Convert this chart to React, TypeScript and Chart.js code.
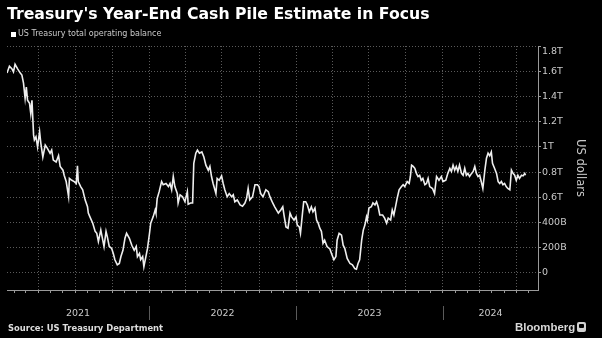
import React, { useEffect, useRef } from "react";
import { Chart, registerables } from "chart.js";

Chart.register(...registerables);

const TITLE = "Treasury's Year-End Cash Pile Estimate in Focus";
const LEGEND_LABEL = "US Treasury total operating balance";
const SOURCE = "Source: US Treasury Department";
const BRAND = "Bloomberg";
const Y_AXIS_TITLE = "US dollars";

const dates = [
  "2021-01-13","2021-01-19","2021-01-25","2021-01-29","2021-02-02","2021-02-08","2021-02-15","2021-02-19",
  "2021-02-23","2021-02-27","2021-03-02","2021-03-05","2021-03-10","2021-03-13","2021-03-16","2021-03-20",
  "2021-03-22","2021-03-26","2021-03-30","2021-04-04","2021-04-07","2021-04-12","2021-04-18","2021-04-23",
  "2021-04-30","2021-05-04","2021-05-08","2021-05-15","2021-05-21","2021-05-25","2021-06-01","2021-06-04",
  "2021-06-09","2021-06-15","2021-06-17","2021-06-23","2021-06-29","2021-07-04","2021-07-07","2021-07-09",
  "2021-07-15","2021-07-20","2021-07-26","2021-08-01","2021-08-03","2021-08-07","2021-08-14","2021-08-20",
  "2021-08-24","2021-08-28","2021-09-03","2021-09-07","2021-09-11","2021-09-16","2021-09-19","2021-09-24",
  "2021-09-30","2021-10-04","2021-10-08","2021-10-14","2021-10-19","2021-10-23","2021-10-28","2021-11-02",
  "2021-11-06","2021-11-13","2021-11-19","2021-11-25","2021-11-30","2021-12-03","2021-12-08","2021-12-11",
  "2021-12-16","2021-12-19","2021-12-24","2021-12-28","2022-01-02","2022-01-05","2022-01-11","2022-01-16",
  "2022-01-18","2022-01-21","2022-01-26","2022-02-01","2022-02-05","2022-02-12","2022-02-18","2022-02-22",
  "2022-02-26","2022-03-02","2022-03-06","2022-03-12","2022-03-14","2022-03-19","2022-03-25","2022-03-31",
  "2022-04-06","2022-04-08","2022-04-14","2022-04-19","2022-04-22","2022-04-27","2022-05-01","2022-05-06",
  "2022-05-12","2022-05-17","2022-05-22","2022-05-28","2022-06-01","2022-06-05","2022-06-09","2022-06-16",
  "2022-06-19","2022-06-24","2022-06-30","2022-07-04","2022-07-08","2022-07-14","2022-07-19","2022-07-25",
  "2022-07-29","2022-08-02","2022-08-08","2022-08-15","2022-08-21","2022-08-27","2022-08-31","2022-09-04",
  "2022-09-08","2022-09-15","2022-09-21","2022-09-27","2022-10-01","2022-10-05","2022-10-11","2022-10-18",
  "2022-10-24","2022-10-28","2022-11-04","2022-11-09","2022-11-18","2022-11-24","2022-11-29","2022-12-02",
  "2022-12-07","2022-12-12","2022-12-17","2022-12-21","2022-12-27","2023-01-01","2023-01-04","2023-01-09",
  "2023-01-12","2023-01-17","2023-01-20","2023-01-25","2023-01-29","2023-02-03","2023-02-08","2023-02-12",
  "2023-02-17","2023-02-21","2023-02-25","2023-03-01","2023-03-05","2023-03-09","2023-03-13","2023-03-19",
  "2023-03-26","2023-03-30","2023-04-05","2023-04-10","2023-04-13","2023-04-18","2023-04-24","2023-04-28",
  "2023-05-02","2023-05-08","2023-05-15","2023-05-21","2023-05-27","2023-05-31","2023-06-04","2023-06-08",
  "2023-06-13","2023-06-17","2023-06-21","2023-06-25","2023-06-27","2023-07-01","2023-07-07","2023-07-11",
  "2023-07-16","2023-07-20","2023-07-24","2023-07-28","2023-08-04","2023-08-09","2023-08-14","2023-08-18",
  "2023-08-24","2023-08-28","2023-09-01","2023-09-06","2023-09-09","2023-09-14","2023-09-20","2023-09-24",
  "2023-09-28","2023-10-04","2023-10-09","2023-10-12","2023-10-15","2023-10-19","2023-10-23","2023-10-27",
  "2023-10-31","2023-11-04","2023-11-08","2023-11-12","2023-11-17","2023-11-21","2023-11-25","2023-11-29",
  "2023-12-06","2023-12-11","2023-12-16","2023-12-22","2023-12-28","2024-01-01","2024-01-08","2024-01-13",
  "2024-01-18","2024-01-22","2024-01-26","2024-01-30","2024-02-03","2024-02-07","2024-02-11","2024-02-16",
  "2024-02-20","2024-02-24","2024-02-28","2024-03-03","2024-03-07","2024-03-12","2024-03-16","2024-03-20",
  "2024-03-24","2024-03-28","2024-04-01","2024-04-05","2024-04-09","2024-04-14","2024-04-18","2024-04-22",
  "2024-04-26","2024-04-30","2024-05-03","2024-05-08","2024-05-13","2024-05-17","2024-05-21","2024-05-25",
  "2024-05-29","2024-06-02","2024-06-06","2024-06-10","2024-06-15","2024-06-19","2024-06-23","2024-06-27",
  "2024-07-01","2024-07-05","2024-07-09","2024-07-14","2024-07-18","2024-07-22","2024-07-24",
];

// US Treasury total operating balance, billions of dollars
const balanceBillions = [
  1585,1640,1620,1595,1655,1620,1585,1570,
  1505,1385,1475,1370,1345,1265,1370,1095,
  1055,1080,1000,1120,1030,920,1015,990,
  950,975,895,880,930,845,815,775,
  725,605,750,735,725,710,850,725,
  685,660,580,525,475,445,395,330,
  315,250,340,275,210,330,290,210,
  195,155,105,65,75,130,180,275,
  315,275,220,180,210,130,155,105,
  130,50,130,195,315,395,445,500,
  475,590,645,725,700,710,685,710,
  660,765,685,630,555,620,605,565,
  645,545,555,555,870,950,975,950,
  960,920,855,815,845,765,710,630,
  750,735,770,710,660,605,630,605,
  620,565,580,540,530,555,590,670,
  580,605,700,700,685,630,605,660,
  645,605,555,525,475,500,525,460,
  365,355,475,445,420,445,380,365,
  315,475,565,565,540,485,525,485,
  515,420,395,355,330,235,260,210,
  190,155,105,130,260,315,300,220,
  195,115,75,65,35,30,75,105,
  260,340,380,445,420,515,525,555,
  540,565,525,460,460,435,395,435,
  420,500,460,540,590,660,685,700,
  685,725,710,765,855,845,830,790,
  765,775,735,750,700,710,750,685,
  670,630,765,735,765,725,735,790,
  830,805,855,815,845,805,855,790,
  775,830,775,790,765,790,805,845,
  790,765,775,725,670,815,910,950,
  930,960,870,830,790,725,710,725,
  700,710,685,670,660,815,790,775,
  735,775,750,775,770,790,775,
];

const yTickValues = [0, 200, 400, 600, 800, 1000, 1200, 1400, 1600, 1800];
const yTickLabels = ["0", "200B", "400B", "0.6T", "0.8T", "1T", "1.2T", "1.4T", "1.6T", "1.8T"];
const yearLabels = ["2021", "2022", "2023", "2024"];
const axisStartDate = "2021-01-13";
const axisEndDate = "2024-08-24";
const yAxisMin = -135;
const yAxisMax = 1800;

const EPOCH = Date.UTC(2021, 0, 1);
const toDay = (s: string) => {
  const [y, m, d] = s.split("-").map(Number);
  return (Date.UTC(y, m - 1, d) - EPOCH) / 86400000;
};

const GRID = "rgba(120,120,120,0.75)";
const AXIS = "#9a9a9a";
const TEXT = "#c9c9c9";
const FONT = "'DejaVu Sans', sans-serif";

export default function App() {
  const canvasRef = useRef<HTMLCanvasElement | null>(null);

  useEffect(() => {
    const canvas = canvasRef.current;
    if (!canvas) return;
    const xMin = toDay(axisStartDate);
    const xMax = toDay(axisEndDate);

    const monthTicks: { value: number; quarter: boolean }[] = [];
    for (let y = 2021; y <= 2024; y++) {
      for (let m = 1; m <= 12; m++) {
        const d = toDay(`${y}-${String(m).padStart(2, "0")}-01`);
        if (d > xMin && d < xMax) monthTicks.push({ value: d, quarter: (m - 1) % 3 === 0 });
      }
    }
    const quarterSet = new Set(monthTicks.filter((t) => t.quarter).map((t) => t.value));

    const points = dates.map((d, i) => ({ x: toDay(d), y: balanceBillions[i] }));

    const yearAxisPlugin = {
      id: "yearAxis",
      afterDraw(chart: any) {
        const xs = chart.scales.x;
        const ctx = chart.ctx;
        const base = chart.chartArea.bottom;
        ctx.save();
        ctx.fillStyle = TEXT;
        ctx.font = `9.5px ${FONT}`;
        ctx.textAlign = "center";
        ctx.textBaseline = "middle";
        yearLabels.forEach((label) => {
          const y = Number(label);
          const s = Math.max(toDay(`${y}-01-01`), xs.min);
          const e = Math.min(toDay(`${y + 1}-01-01`), xs.max);
          ctx.fillText(label, xs.getPixelForValue((s + e) / 2), base + 24);
        });
        ctx.strokeStyle = "#5a5a5a";
        ctx.lineWidth = 1;
        yearLabels.slice(1).forEach((label) => {
          const px = Math.round(xs.getPixelForValue(toDay(`${label}-01-01`))) + 0.5;
          ctx.beginPath();
          ctx.moveTo(px, base + 16);
          ctx.lineTo(px, base + 30);
          ctx.stroke();
        });
        ctx.restore();
      },
    };

    const chart = new Chart(canvas, {
      type: "line",
      data: {
        datasets: [
          {
            label: LEGEND_LABEL,
            data: points,
            borderColor: "#eeeeee",
            borderWidth: 1.6,
            pointRadius: 0,
            tension: 0,
            fill: false,
          },
        ],
      },
      options: {
        animation: false,
        responsive: false,
        devicePixelRatio: 1,
        layout: { padding: { left: 7, top: 46, right: 0, bottom: 0 } },
        plugins: {
          legend: { display: false },
          tooltip: { enabled: false },
          title: { display: false },
        },
        scales: {
          x: {
            type: "linear",
            min: xMin,
            max: xMax,
            afterBuildTicks: (s: any) => {
              s.ticks = monthTicks.map((t) => ({ value: t.value }));
            },
            afterFit: (s: any) => {
              s.height = 48;
            },
            ticks: { display: false, autoSkip: false },
            grid: {
              color: (c: any) => (c.tick && quarterSet.has(c.tick.value) ? GRID : "rgba(0,0,0,0)"),
              tickColor: AXIS,
              tickLength: 3,
              drawTicks: true,
            },
            border: { display: true, color: AXIS, width: 1, dash: [1, 2] },
          },
          y: {
            type: "linear",
            position: "right",
            min: yAxisMin,
            max: yAxisMax,
            afterBuildTicks: (s: any) => {
              s.ticks = yTickValues.map((v) => ({ value: v }));
            },
            afterFit: (s: any) => {
              s.width = 64;
            },
            ticks: {
              color: TEXT,
              font: { family: FONT, size: 9.5 },
              padding: 1,
              autoSkip: false,
              callback: (_v: any, i: number) =>
                i === yTickValues.length - 1 ? ["", yTickLabels[i]] : yTickLabels[i],
            },
            grid: { color: GRID, tickColor: AXIS, tickLength: 3 },
            border: { display: true, color: AXIS, width: 1, dash: [1, 2] },
            title: {
              display: true,
              text: Y_AXIS_TITLE,
              color: TEXT,
              font: { family: FONT, size: 11.5 },
              padding: { top: 15, bottom: 0 },
            },
          },
        },
      },
      plugins: [yearAxisPlugin],
    } as any);

    return () => chart.destroy();
  }, []);

  const abs = (o: React.CSSProperties): React.CSSProperties => ({
    position: "absolute",
    margin: 0,
    lineHeight: 1,
    whiteSpace: "nowrap",
    ...o,
  });

  return (
    <div
      style={{
        position: "fixed",
        left: 0,
        top: 0,
        width: 602,
        height: 338,
        background: "#000",
        overflow: "hidden",
      }}
    >
      <canvas ref={canvasRef} width={602} height={338} style={{ position: "absolute", left: 0, top: 0 }} />
      <div style={abs({ left: 7, top: 5.7, fontFamily: FONT, fontWeight: 700, fontSize: 15.7, color: "#fff" })}>
        {TITLE}
      </div>
      <div style={abs({ left: 11, top: 32, width: 5, height: 5, background: "#fff" })} />
      <div style={abs({ left: 18, top: 30.2, fontFamily: FONT, fontSize: 8, color: TEXT })}>{LEGEND_LABEL}</div>
      <div style={abs({ left: 8, top: 324.4, fontFamily: FONT, fontWeight: 700, fontSize: 8.4, color: "#dddddd" })}>
        {SOURCE}
      </div>
      <div
        style={abs({
          left: 515,
          top: 321.5,
          fontFamily: "'Liberation Sans', Arial, sans-serif",
          fontWeight: 700,
          fontSize: 11.4,
          color: "#d8d8d8",
        })}
      >
        {BRAND}
      </div>
      <div
        style={abs({ left: 577, top: 322, width: 9, height: 10, background: "#d0d0d0", borderRadius: 2 })}
      >
        <div style={abs({ left: 2, top: 2, width: 5, height: 4, background: "#000", borderRadius: 1 })} />
      </div>
    </div>
  );
}
